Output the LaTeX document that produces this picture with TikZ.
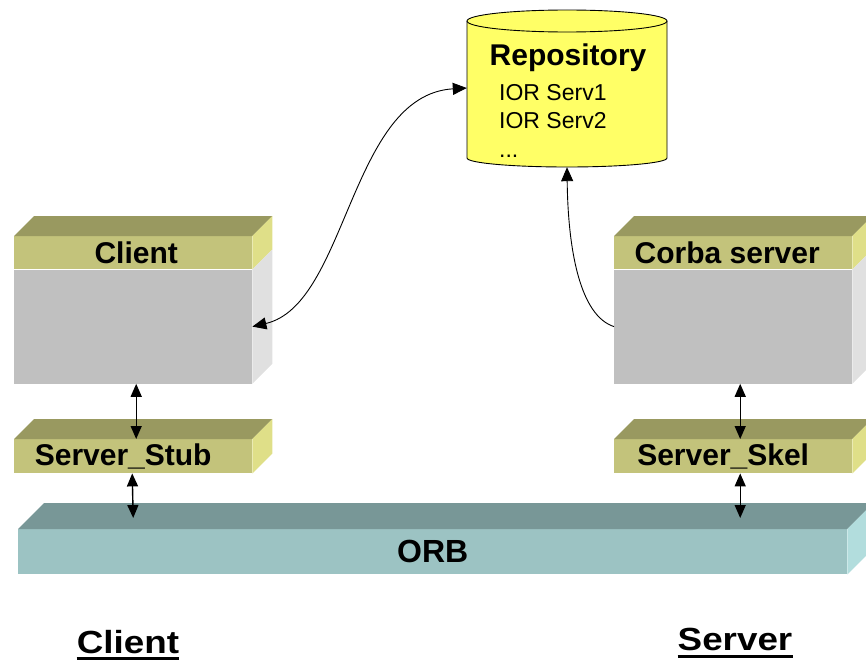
\documentclass[tikz,border=0pt]{standalone}
\usepackage{fontspec}
\setmainfont{Liberation Sans}
\newfontfamily\widefont[FakeStretch=1.15]{Liberation Sans}
\usepackage{tikz}
\usetikzlibrary{positioning}
\usetikzlibrary{arrows.meta}
\usepackage{xcolor}
\definecolor{olivetop}{HTML}{999960}
\definecolor{olivefront}{HTML}{C3C37B}
\definecolor{oliveside}{HTML}{DFDF88}
\definecolor{grayfront}{HTML}{C0C0C0}
\definecolor{grayside}{HTML}{E0E0E0}
\definecolor{orbtop}{HTML}{789797}
\definecolor{orbfront}{HTML}{9CC3C3}
\definecolor{orbside}{HTML}{B2DDDD}
\definecolor{repofill}{HTML}{FFFF66}
\newcommand{\boxtop}[3]{\fill[#3] (#1.north west) -- ([shift={(#2pt,#2pt)}]#1.north west) -- ([shift={(#2pt,#2pt)}]#1.north east) -- (#1.north east) -- cycle;}
\newcommand{\boxside}[3]{\fill[#3] (#1.north east) -- ([shift={(#2pt,#2pt)}]#1.north east) -- ([shift={(#2pt,#2pt)}]#1.south east) -- (#1.south east) -- cycle;}

\begin{document}
\begin{tikzpicture}[x=1pt, y=-1pt,
		face/.style={inner sep=0pt, minimum width=238pt, anchor=north west, font=\bfseries\fontsize{30}{36}\selectfont},
		link/.style={<->, >={Triangle[length=13pt,width=11pt]}, line width=1.4pt},
		curvy/.style={>={Triangle[length=14pt,width=12pt]}, line width=0.9pt},
		entry/.style={anchor=base west, inner sep=0pt, font=\fontsize{23}{28}\selectfont},
		side/.style={anchor=base, inner sep=0pt, font=\widefont\bfseries\fontsize{32}{38}\selectfont}]
	\useasboundingbox (0,0) rectangle (866,661);
	\clip (0,0) rectangle (866,661);
			\node[face, fill=olivefront, minimum height=33pt] (clienthead) at (14,236) {\hspace*{6pt}Client};
			\node[face, fill=grayfront, minimum height=114pt, below=0pt of clienthead] (clientbody) {};
			\boxtop{clienthead}{20}{olivetop}
			\boxside{clienthead}{20}{oliveside}
			\boxside{clientbody}{20}{grayside}
			\node[face, fill=olivefront, minimum height=33pt] (corbahead) at (614,236) {\hspace*{-12pt}Corba server};
			\node[face, fill=grayfront, minimum height=114pt, below=0pt of corbahead] (corbabody) {};
			\boxtop{corbahead}{20}{olivetop}
			\boxside{corbahead}{20}{oliveside}
			\boxside{corbabody}{20}{grayside}
			\node[face, fill=olivefront, minimum height=34pt] (stub) at (14,439) {\hspace*{-20pt}Server\_Stub};
			\boxtop{stub}{20}{olivetop}
			\boxside{stub}{20}{oliveside}
			\node[face, fill=olivefront, minimum height=34pt] (skel) at (614,439) {\hspace*{-20pt}Server\_Skel};
			\boxtop{skel}{20}{olivetop}
			\boxside{skel}{20}{oliveside}
			\node[face, fill=orbfront, minimum width=829pt, minimum height=45pt, font=\bfseries\fontsize{32}{38}\selectfont] (orb) at (18,529) {ORB};
			\boxtop{orb}{26}{orbtop}
			\boxside{orb}{26}{orbside}
			\draw[fill=repofill, line width=0.9pt] (467,21) -- (467,158) arc[start angle=180, end angle=360, x radius=100pt, y radius=9pt] -- (667,21) arc[start angle=0, end angle=180, x radius=100pt, y radius=11pt] -- cycle;
			\draw[line width=0.9pt] (467,21) arc[start angle=180, end angle=360, x radius=100pt, y radius=11pt];
			\node[inner sep=0pt, minimum width=200pt, minimum height=158pt] (repobox) at (567,88) {};
			\node[anchor=base, inner sep=0pt, font=\bfseries\fontsize{30}{36}\selectfont] (repotitle) at (568,65) {Repository};
			\node[entry] (ior1) at (499,100) {IOR Serv1};
			\node[entry] (ior2) at (499,128) {IOR Serv2};
			\node[entry] (iordots) at (499,157) {...};
			\draw[link] ([xshift=3pt]clientbody.south) -- ([xshift=3pt]stub.north);
			\draw[link] ([xshift=-1pt]stub.south) -- ([yshift=11pt]stub.south |- orb.north);
			\draw[link] ([xshift=7pt]corbabody.south) -- ([xshift=7pt]skel.north);
			\draw[link] ([xshift=7pt]skel.south) -- ([xshift=7pt,yshift=11pt]skel.south |- orb.north);
			\draw[curvy, <->] (clientbody.east) .. controls +(95,-22) and +(-117,7) .. (repobox.west);
			\draw[curvy, ->] (corbabody.west) .. controls +(-34,-11) and +(1,83) .. (repobox.south);
			\node[side] (clientside) at (128,653) {Client};
			\node[side] (serverside) at (735,650) {Server};
			\draw[line width=3pt] ([yshift=-5pt]clientside.base west) -- ([yshift=-5pt]clientside.base east);
			\draw[line width=3pt] ([yshift=-6pt]serverside.base west) -- ([yshift=-6pt]serverside.base east);
\end{tikzpicture}
\end{document}
